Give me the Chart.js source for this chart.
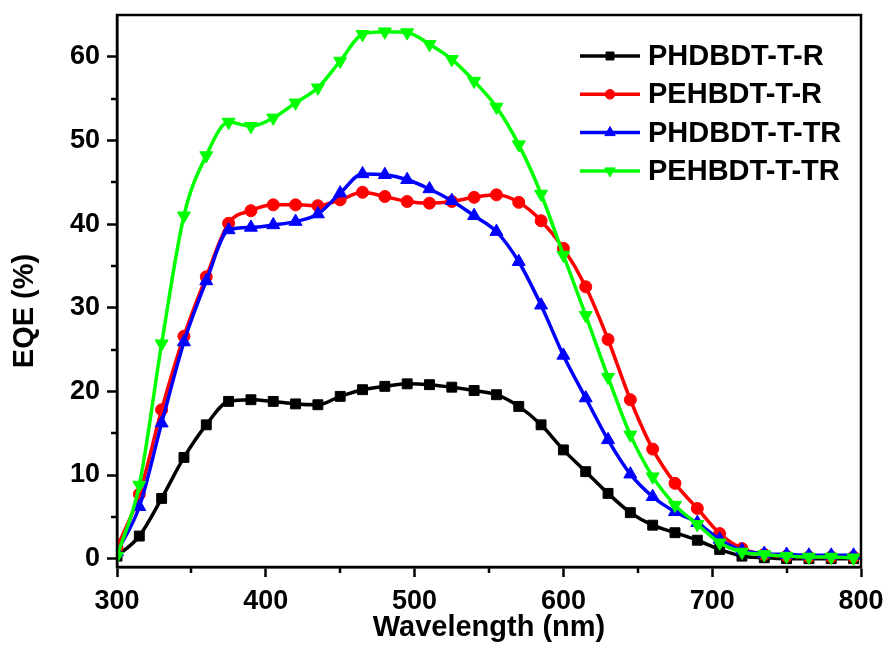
<!DOCTYPE html>
<html>
<head>
<meta charset="utf-8">
<script src="https://cdn.jsdelivr.net/npm/chart.js@4.4.1/dist/chart.umd.min.js"></script>
<style>
  body { margin: 0; background: #fff; }
  #wrap { width: 886px; height: 645px; position: relative; }
</style>
</head>
<body>
<div id="wrap"><canvas id="eqe-chart"></canvas></div>
<script>
// wavelength grid (nm), one point every 15 nm
const wavelengths = [300, 315, 330, 345, 360, 375, 390, 405, 420, 435, 450, 465, 480, 495, 510, 525, 540,
  555, 570, 585, 600, 615, 630, 645, 660, 675, 690, 705, 720, 735, 750, 765, 780, 795];

// EQE (%)
const phdbdtTR_R = [0.3, 2.7, 7.2, 12.1, 16.0, 18.8, 19.0, 18.8, 18.5, 18.4, 19.4, 20.2, 20.6, 20.9, 20.8, 20.5, 20.1,
  19.6, 18.2, 16.0, 13.0, 10.4, 7.8, 5.5, 4.0, 3.1, 2.2, 1.1, 0.3, 0.1, 0.0, 0.0, 0.0, 0.0];
const pehbdtTR_R = [1.3, 7.7, 17.8, 26.6, 33.7, 40.1, 41.6, 42.3, 42.3, 42.2, 42.9, 43.8, 43.3, 42.7, 42.5, 42.7, 43.2,
  43.5, 42.6, 40.4, 37.1, 32.5, 26.2, 19.0, 13.1, 9.0, 6.0, 3.0, 1.2, 0.5, 0.3, 0.2, 0.2, 0.2];
const phdbdtTR_TR = [0.8, 6.2, 16.2, 25.9, 33.2, 39.3, 39.6, 39.9, 40.3, 41.2, 43.7, 46.0, 45.9, 45.3, 44.2, 42.8, 41.0,
  39.1, 35.5, 30.3, 24.3, 19.2, 14.2, 10.1, 7.4, 5.6, 4.3, 2.3, 1.0, 0.6, 0.5, 0.4, 0.4, 0.4];
const pehbdtTR_TR = [0.3, 8.8, 25.7, 41.0, 48.2, 52.2, 51.7, 52.7, 54.5, 56.3, 59.5, 62.7, 63.0, 62.9, 61.5, 59.7, 57.1,
  54.0, 49.5, 43.6, 36.3, 29.1, 21.7, 14.8, 9.8, 6.4, 4.1, 1.9, 0.8, 0.5, 0.3, 0.2, 0.2, 0.1];

const seriesNames = ['PHDBDT-T-R', 'PEHBDT-T-R', 'PHDBDT-T-TR', 'PEHBDT-T-TR'];
const seriesValues = [phdbdtTR_R, pehbdtTR_R, phdbdtTR_TR, pehbdtTR_TR];
const seriesColors = ['#000000', '#ff0000', '#0000ff', '#00ff00'];
const seriesMarkers = [
  { style: 'rect', radius: 7, rotation: 0 },
  { style: 'circle', radius: 6, rotation: 0 },
  { style: 'triangle', radius: 7.5, rotation: 0 },
  { style: 'triangle', radius: 7.5, rotation: 180 }
];

const xTicks = [300, 400, 500, 600, 700, 800];
const xMinorTicks = [350, 450, 550, 650, 750];
const yTicks = [0, 10, 20, 30, 40, 50, 60];
const yMinorTicks = [5, 15, 25, 35, 45, 55];

const FONT = "'Liberation Sans', Arial, sans-serif";

// minor tick marks, the top/right frame and the axis title on the left
const frameAndExtras = {
  id: 'frameAndExtras',
  afterDatasetsDraw(chart) {
    const { ctx, chartArea: a, scales: { x, y } } = chart;
    ctx.save();
    ctx.strokeStyle = '#000';
    ctx.lineWidth = 2.5;
    ctx.strokeRect(a.left, a.top, a.right - a.left, a.bottom - a.top);
    ctx.beginPath();
    xMinorTicks.forEach(v => {
      const px = Math.round(x.getPixelForValue(v));
      ctx.moveTo(px, a.bottom);
      ctx.lineTo(px, a.bottom + 6);
    });
    yMinorTicks.forEach(v => {
      const py = Math.round(y.getPixelForValue(v));
      ctx.moveTo(a.left, py);
      ctx.lineTo(a.left - 6, py);
    });
    ctx.stroke();

    ctx.fillStyle = '#000';
    ctx.font = 'bold 29px ' + FONT;
    ctx.textAlign = 'center';
    ctx.textBaseline = 'alphabetic';
    ctx.translate(33, (a.top + a.bottom) / 2 + 20);
    ctx.rotate(-Math.PI / 2);
    ctx.fillText('EQE (%)', 0, 0);
    ctx.restore();
  },
  afterDraw(chart) {
    // legend inside the plot, top right
    const { ctx, chartArea: a } = chart;
    ctx.save();
    chart.data.datasets.forEach((ds, i) => {
      const lx = a.right - 281;
      const ly = a.top + 41 + i * 38.3;
      ctx.strokeStyle = ds.borderColor;
      ctx.lineWidth = 3.5;
      ctx.beginPath();
      ctx.moveTo(lx, ly);
      ctx.lineTo(lx + 60, ly);
      ctx.stroke();
      ctx.fillStyle = ds.borderColor;
      ctx.lineWidth = 1;
      const m = seriesMarkers[i];
      Chart.helpers.drawPoint(ctx, { pointStyle: m.style, rotation: m.rotation, radius: m.radius * 0.8, borderWidth: 1 }, lx + 30, ly);
      ctx.fillStyle = '#000';
      ctx.font = 'bold 29px ' + FONT;
      ctx.textAlign = 'left';
      ctx.textBaseline = 'middle';
      ctx.fillText(ds.label, lx + 68, ly + 1);
    });
    ctx.restore();
  }
};

const datasets = seriesNames.map((name, i) => ({
  label: name,
  data: wavelengths.map((w, j) => ({ x: w, y: seriesValues[i][j] })),
  borderColor: seriesColors[i],
  backgroundColor: seriesColors[i],
  pointBackgroundColor: seriesColors[i],
  pointBorderColor: seriesColors[i],
  borderWidth: 3.5,
  pointStyle: seriesMarkers[i].style,
  pointRotation: seriesMarkers[i].rotation,
  pointRadius: seriesMarkers[i].radius,
  pointBorderWidth: 1,
  cubicInterpolationMode: 'monotone',
  fill: false,
  order: seriesNames.length - 1 - i   // later series drawn on top
}));

new Chart(document.getElementById('eqe-chart'), {
  type: 'line',
  data: { datasets },
  plugins: [frameAndExtras],
  options: {
    responsive: true,
    maintainAspectRatio: false,
    animation: false,
    layout: { padding: { top: 15, right: 25, left: 0, bottom: 0 } },
    plugins: { legend: { display: false }, tooltip: { enabled: false } },
    scales: {
      x: {
        type: 'linear',
        min: 300,
        max: 800,
        afterFit: s => { s.height = 78; s.paddingLeft = 0; s.paddingRight = 0; },
        afterBuildTicks: s => { s.ticks = xTicks.map(v => ({ value: v })); },
        ticks: { color: '#000', padding: 8, font: { family: FONT, size: 27, weight: 'bold' } },
        grid: { drawOnChartArea: false, tickLength: 10, tickWidth: 2.5, tickColor: '#000' },
        border: { color: '#000', width: 2.5 },
        title: {
          display: true,
          text: 'Wavelength (nm)',
          color: '#000',
          padding: { top: 0, bottom: 0 },
          font: { family: FONT, size: 29, weight: 'bold', lineHeight: 1.2 }
        }
      },
      y: {
        min: -1,
        max: 65,
        afterFit: s => { s.width = 117; s.paddingTop = 0; s.paddingBottom = 0; },
        afterBuildTicks: s => { s.ticks = yTicks.map(v => ({ value: v })); },
        ticks: { color: '#000', padding: 7, font: { family: FONT, size: 27, weight: 'bold' } },
        grid: { drawOnChartArea: false, tickLength: 10, tickWidth: 2.5, tickColor: '#000' },
        border: { color: '#000', width: 2.5 }
      }
    }
  }
});
</script>
</body>
</html>
